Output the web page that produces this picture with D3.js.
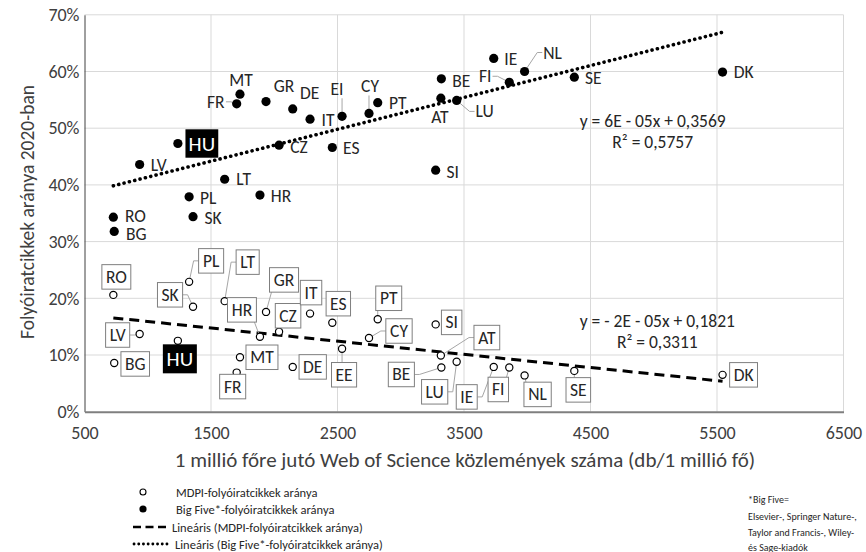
<!DOCTYPE html>
<html><head><meta charset="utf-8">
<script src="https://cdn.jsdelivr.net/npm/d3@7"></script>
<style>
body{margin:0;background:#fff}
svg{display:block}
text{font-family:Carlito, Calibri, Lato, 'Liberation Sans', sans-serif}
</style>
</head><body>
<svg id="c" width="866" height="552"></svg>
<script>
// ---------------- DATA ----------------
const countries     = ["RO","BG","LV","HU","PL","SK","LT","FR","MT","HR","GR","CZ","DE","IT","ES","EE","CY","PT","SI","AT","BE","LU","IE","FI","NL","SE","DK"];
const bigFiveLabels = ["RO","BG","LV","HU","PL","SK","LT","FR","MT","HR","GR","CZ","DE","IT","ES","EI","CY","PT","SI","AT","BE","LU","IE","FI","NL","SE","DK"];
const wosPerMillion = [728,735,936,1238,1327,1358,1608,1703,1729,1887,1935,2038,2146,2283,2459,2536,2749,2818,3276,3317,3321,3442,3735,3858,3979,4372,5544];
const mdpiShare     = [0.206,0.086,0.137,0.125,0.229,0.185,0.195,0.069,0.096,0.132,0.176,0.141,0.079,0.173,0.157,0.111,0.130,0.163,0.154,0.099,0.078,0.088,0.079,0.078,0.064,0.072,0.065];
const bigFiveShare  = [0.343,0.318,0.436,0.473,0.379,0.344,0.410,0.543,0.560,0.382,0.547,0.470,0.534,0.516,0.466,0.521,0.526,0.545,0.426,0.553,0.587,0.549,0.623,0.581,0.600,0.590,0.599];
const xTicks = [500,1500,2500,3500,4500,5500,6500];
const yTicks = [0,0.1,0.2,0.3,0.4,0.5,0.6,0.7];
const highlight = "HU";
const eqBigFive = ["y = 6E - 05x + 0,3569","R² = 0,5757"];
const eqMdpi    = ["y = - 2E - 05x + 0,1821","R² = 0,3311"];
const xTitle = "1 millió főre jutó Web of Science közlemények száma (db/1 millió fő)";
const yTitle = "Folyóiratcikkek aránya 2020-ban";
const legendItems = ["MDPI-folyóiratcikkek aránya","Big Five*-folyóiratcikkek aránya","Lineáris (MDPI-folyóiratcikkek aránya)","Lineáris (Big Five*-folyóiratcikkek aránya)"];
const noteLines = ["*Big Five=","Elsevier-, Springer Nature-,","Taylor and Francis-, Wiley-","és Sage-kiadók"];

// ---------------- LAYOUT ----------------
const bigFiveLabelPos = {
  MT:[1,-14],FR:[-21,-2,"r"],GR:[18,-16],DE:[17,-16],IT:[18,1],EE:[-5,-27,"b"],CY:[1,-27,"b"],
  PT:[20,0],BE:[20,2],AT:[-1,19],LU:[28,11,"l"],HU:[24,0],LV:[19,1],CZ:[20,2],ES:[19,1],
  SI:[17,2],LT:[19,0],PL:[19,1],HR:[21,1],RO:[22,-1],SK:[20,1],BG:[22,3],IE:[17,1],
  NL:[28,-19,"l"],FI:[-24,-6,"r"],SE:[19,1],DK:[21,0]
};
const mdpiLabelPos = {
  RO:[3,-18],PL:[22,-21,"l"],SK:[-23,-12,"r"],LT:[23,-39,"l"],GR:[18,-32,"b"],IT:[1,-21],
  ES:[6,-19],HR:[-18,-27,"b"],CZ:[9,-16],PT:[11,-21,"b"],CY:[30,-7,"l"],SI:[16,-2],
  LV:[-22,1,"r"],HU:[2,18],BG:[21,1],MT:[22,0],FR:[-4,14],DE:[20,0],EE:[2,26,"t"],
  BE:[-40,7,"r"],AT:[46,-18,"l"],LU:[-22,30,"r"],IE:[-27,30,"r"],FI:[-11,22,"t"],
  NL:[13,19,"t"],SE:[4,19,"t"],DK:[21,0]
};

const svg = d3.select("#c");
const x = d3.scaleLinear().domain([500,6500]).range([84.5,843.5]);
const y = d3.scaleLinear().domain([0,0.7]).range([411.7,14.8]);

// grid
svg.append("g").selectAll("line").data(yTicks.slice(1)).join("line")
  .attr("x1",x(500)).attr("x2",x(6500)).attr("y1",d=>y(d)).attr("y2",d=>y(d))
  .attr("stroke","#d9d9d9").attr("stroke-width",1);
svg.append("g").selectAll("line").data(xTicks.slice(1)).join("line")
  .attr("x1",d=>x(d)).attr("x2",d=>x(d)).attr("y1",y(0)).attr("y2",y(0.7))
  .attr("stroke","#d9d9d9").attr("stroke-width",1);

// axes
const yAxis = svg.append("g").attr("transform",`translate(${x(500)},0)`)
  .call(d3.axisLeft(y).tickValues(yTicks).tickFormat(d3.format(".0%")).tickSize(0).tickPadding(5));
yAxis.select(".domain").attr("stroke","#404040");
yAxis.selectAll("text").attr("font-size",18).attr("fill","#404040");
const xAxis = svg.append("g").attr("transform",`translate(0,${y(0)})`)
  .call(d3.axisBottom(x).tickValues(xTicks).tickFormat(d3.format("d")).tickSize(0));
xAxis.select(".domain").attr("stroke","#7f7f7f").attr("stroke-width",2);
xAxis.selectAll("text").attr("font-size",18).attr("fill","#404040").attr("y",27.5).attr("dy",0);

// titles
svg.append("text").attr("x",465).attr("y",467).attr("text-anchor","middle")
  .attr("font-size",21).attr("fill","#404040").text(xTitle);
svg.append("text").attr("transform","translate(34,212) rotate(-90)").attr("text-anchor","middle")
  .attr("font-size",19.5).attr("fill","#404040").text(yTitle);

// regression
function linreg(xs, ys){
  const n=xs.length, mx=d3.mean(xs), my=d3.mean(ys);
  let sxy=0,sxx=0; for(let i=0;i<n;i++){sxy+=(xs[i]-mx)*(ys[i]-my);sxx+=(xs[i]-mx)**2;}
  const b=sxy/sxx; return {b, a:my-b*mx};
}
const xmin=d3.min(wosPerMillion), xmax=d3.max(wosPerMillion);
const rB=linreg(wosPerMillion,bigFiveShare), rM=linreg(wosPerMillion,mdpiShare);
const line=d3.line().x(d=>x(d[0])).y(d=>y(d[1]));
svg.append("path").attr("d",line([[xmin,rB.a+rB.b*xmin],[xmax,rB.a+rB.b*xmax]]))
  .attr("stroke","#000").attr("stroke-width",3.6).attr("stroke-linecap","round")
  .attr("stroke-dasharray","0.1 5.4").attr("fill","none");
svg.append("path").attr("d",line([[xmin,rM.a+rM.b*xmin],[xmax,rM.a+rM.b*xmax]]))
  .attr("stroke","#000").attr("stroke-width",3).attr("stroke-dasharray","10 6").attr("fill","none");

const leaderG = svg.append("g");
const markG = svg.append("g");
const labelG = svg.append("g");

function leader(px,py,b,side){
  let p;
  const cy=b.y+b.h/2, clamp=v=>Math.max(b.x+2,Math.min(b.x+b.w-2,v));
  if(side==="l") p=`M${b.x},${cy}H${b.x-5}L${px},${py}`;
  else if(side==="r") p=`M${b.x+b.w},${cy}H${b.x+b.w+5}L${px},${py}`;
  else if(side==="t") p=`M${clamp(px)},${b.y}L${px},${py}`;
  else p=`M${clamp(px)},${b.y+b.h}L${px},${py}`;
  leaderG.append("path").attr("d",p).attr("fill","none").attr("stroke","#a6a6a6").attr("stroke-width",1);
}

// Big Five points & labels
countries.forEach((c,i)=>{
  const px=x(wosPerMillion[i]), py=y(bigFiveShare[i]);
  markG.append("circle").attr("cx",px).attr("cy",py).attr("r",4.6).attr("fill","#000");
  const o=bigFiveLabelPos[c]; const lx=px+o[0], ly=py+o[1];
  if(c===highlight){
    labelG.append("rect").attr("x",lx-16.4).attr("y",ly-14.2).attr("width",32.8).attr("height",28.4).attr("fill","#000");
    labelG.append("text").attr("x",lx).attr("y",ly).attr("text-anchor","middle")
      .attr("dominant-baseline","central").attr("font-size",21).attr("fill","#fff").text(bigFiveLabels[i]);
  } else {
    const t=labelG.append("text").attr("x",lx).attr("y",ly).attr("text-anchor","middle")
      .attr("dominant-baseline","central").attr("font-size",17.5).attr("fill","#262626").text(bigFiveLabels[i]);
    if(o[2]){ const bb=t.node().getBBox(); leader(px,py,{x:bb.x-1,y:bb.y+2,w:bb.width+2,h:bb.height-4},o[2]); }
  }
});

// MDPI points & labels
countries.forEach((c,i)=>{
  const px=x(wosPerMillion[i]), py=y(mdpiShare[i]);
  markG.append("circle").attr("cx",px).attr("cy",py).attr("r",3.6).attr("fill","#fff").attr("stroke","#000").attr("stroke-width",1.2);
  const o=mdpiLabelPos[c]; const lx=px+o[0], ly=py+o[1];
  const g=labelG.append("g");
  if(c===highlight){
    g.append("rect").attr("x",lx-17).attr("y",ly-14.5).attr("width",34).attr("height",29).attr("fill","#000");
    g.append("text").attr("x",lx).attr("y",ly).attr("text-anchor","middle").attr("dominant-baseline","central")
      .attr("font-size",21).attr("fill","#fff").text(c);
  } else {
    const r=g.append("rect").attr("fill","#fff").attr("stroke","#7f7f7f").attr("stroke-width",1);
    const t=g.append("text").attr("x",lx).attr("y",ly).attr("text-anchor","middle").attr("dominant-baseline","central")
      .attr("font-size",17.5).attr("fill","#262626").text(c);
    const bb=t.node().getBBox();
    const w=bb.width+8, h=24.5;
    const b={x:lx-w/2,y:ly-h/2,w,h};
    r.attr("x",b.x).attr("y",b.y).attr("width",w).attr("height",h);
    if(o[2]) leader(px,py,b,o[2]);
  }
});

// equations
[[eqBigFive,652.7,120.7],[eqMdpi,657.3,320.7]].forEach(([eq,ex,ey])=>{
  eq.forEach((s,k)=>svg.append("text").attr("x",ex).attr("y",ey+k*21).attr("text-anchor","middle")
    .attr("dominant-baseline","central").attr("font-size",17.5).attr("fill","#262626").text(s));
});

// legend
const lg=svg.append("g").attr("font-size",12.5);
const ly0=[492,509,527,544];
lg.append("circle").attr("cx",143).attr("cy",ly0[0]).attr("r",3).attr("fill","#fff").attr("stroke","#000").attr("stroke-width",1.1);
lg.append("circle").attr("cx",143).attr("cy",ly0[1]).attr("r",3.6).attr("fill","#000");
lg.append("line").attr("x1",133).attr("x2",170).attr("y1",ly0[2]).attr("y2",ly0[2]).attr("stroke","#000").attr("stroke-width",2.5).attr("stroke-dasharray","8 4.5");
lg.append("line").attr("x1",134).attr("x2",170).attr("y1",ly0[3]).attr("y2",ly0[3]).attr("stroke","#000").attr("stroke-width",2.8).attr("stroke-linecap","round").attr("stroke-dasharray","0.1 4.6");
const lx0=[176,176,172,175];
legendItems.forEach((s,k)=>lg.append("text").attr("x",lx0[k]).attr("y",ly0[k]).attr("dominant-baseline","central").attr("fill","#262626").text(s));
noteLines.forEach((s,k)=>svg.append("text").attr("x",748).attr("y",[499,516,532,547][k]).attr("dominant-baseline","central")
  .attr("font-size",10).attr("fill","#262626").text(s));
</script>
</body></html>
